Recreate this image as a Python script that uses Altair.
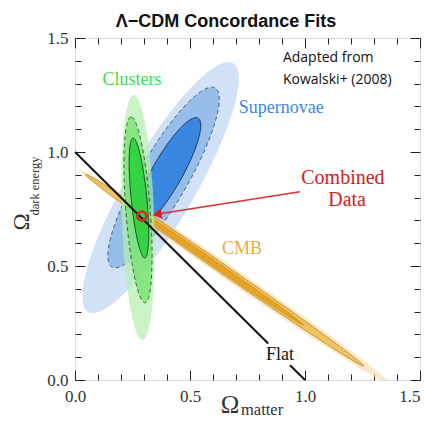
import numpy as np
import pandas as pd
import altair as alt

# ---------------- data ----------------
# Supernovae confidence contours (outer -> inner): centre, semi-axes, orientation (deg)
sn_cx = [0.372, 0.385, 0.400]
sn_cy = [0.844, 0.888, 0.908]
sn_a = [0.630, 0.452, 0.276]
sn_b = [0.148, 0.106, 0.066]
sn_angle = [60.0, 60.3, 60.7]

# Cluster contours (outer -> inner)
cl_cx = [0.274, 0.274, 0.278]
cl_cy = [0.713, 0.746, 0.798]
cl_a = [0.538, 0.409, 0.264]
cl_b = [0.070, 0.053, 0.034]
cl_angle = [92.0, 94.3, 95.6]

# CMB contours (outer -> inner)
cmb_cx = [0.700, 0.650, 0.610]
cmb_cy = [0.448, 0.482, 0.508]
cmb_a = [0.824, 0.735, 0.470]
cmb_b = [0.032, 0.020, 0.012]
cmb_angle = [-34.8, -34.8, -34.8]

# Flat universe line (two pieces around the "Flat" label)
flat_x = [0.0, 0.84, 0.935, 1.0]
flat_y = [1.0, 0.16, 0.065, 0.0]
flat_seg = ["a", "a", "b", "b"]

# Combined-data point and arrow
combined_x = [0.291]
combined_y = [0.719]
arrow_x = [0.978, 0.36]
arrow_y = [0.826, 0.728]
arrowhead_x = [0.357]
arrowhead_y = [0.727]

# Labels inside the plot
label_text = ["Clusters", "Supernovae", "Combined", "Data", "CMB", "Flat"]
label_x = [0.248, 0.897, 1.165, 1.183, 0.726, 0.891]
label_y = [1.316, 1.193, 0.886, 0.789, 0.575, 0.110]
label_color = ["#3fdd4c", "#3a88e0", "#d42020", "#d42020", "#e6ad3c", "#111111"]
label_size = [18, 18, 20, 20, 18, 18]

note_text = ["Adapted from", "Kowalski+ (2008)"]
note_x = [0.904, 0.904]
note_y = [1.412, 1.316]

major_ticks = [0.0, 0.5, 1.0, 1.5]
x_major_inner = [0.0, 0.5, 1.0]
x_major_last = [1.5]
minor_ticks = [0.1, 0.2, 0.3, 0.4, 0.6, 0.7, 0.8, 0.9, 1.1, 1.2, 1.3, 1.4]

# ---------------- styles ----------------
sn_fill = ["#d2e2f6", "#97bdea", "#3a87e2"]
sn_stroke = ["#d2e2f6", "#4d5d78", "#1f3560"]
cl_fill = ["#b4efae", "#6fe06a", "#1fcf33"]
cl_stroke = ["#b4efae", "#336633", "#1b4d22"]
cmb_fill = ["#f6dba0", "#efbb4c", "#e5a321"]

W, H = 345, 342
XS = alt.Scale(domain=[0, 1.5], nice=False, zero=False)
YS = alt.Scale(domain=[0, 1.5], nice=False, zero=False)
SERIF = "Liberation Serif"


def ellipse_df(cx, cy, a, b, ang, n=180):
    t = np.linspace(0, 2 * np.pi, n)
    th = np.deg2rad(ang)
    x = cx + a * np.cos(th) * np.cos(t) - b * np.sin(th) * np.sin(t)
    y = cy + a * np.sin(th) * np.cos(t) + b * np.cos(th) * np.sin(t)
    return pd.DataFrame({"x": x, "y": y, "i": np.arange(n)})


def axis(orient, values, size, labels, pad=8, **extra):
    return alt.Axis(
        orient=orient, values=values, tickSize=size, offset=-size,
        labels=labels, domain=False, grid=False, title=None,
        tickColor="#222", tickWidth=1, labelFont=SERIF, labelFontSize=17,
        labelColor="#333", labelPadding=pad, labelFlush=False,
        labelOverlap=False, format=".1f", **extra
    )


axis_pairs = [
    (axis("bottom", x_major_inner, 10, True, 8), axis("left", major_ticks, 10, True, 7)),
    (axis("bottom", minor_ticks, 6, False), axis("left", minor_ticks, 6, False)),
    (axis("top", major_ticks, 10, False), axis("right", major_ticks, 10, False)),
    (axis("top", minor_ticks, 6, False), axis("right", minor_ticks, 6, False)),
    (axis("bottom", x_major_last, 10, True, 8, labelAlign="right"), None),
]


def ellipse_layer(cx, cy, a, b, ang, fill, stroke=None, dash=None, width=1.0,
                  fill_opacity=1.0, axes=None):
    df = ellipse_df(cx, cy, a, b, ang)
    kw = dict(fill=fill, fillOpacity=fill_opacity, clip=True, strokeWidth=width)
    if stroke is None:
        kw["strokeOpacity"] = 0
        kw["stroke"] = fill
    else:
        kw["stroke"] = stroke
    if dash is not None:
        kw["strokeDash"] = dash
    ax_x, ax_y = axes if axes is not None else (None, None)
    return alt.Chart(df).mark_line(**kw).encode(
        x=alt.X("x:Q", scale=XS, axis=ax_x),
        y=alt.Y("y:Q", scale=YS, axis=ax_y),
        order="i:Q",
    )


layers = []
# Supernovae
layers.append(ellipse_layer(sn_cx[0], sn_cy[0], sn_a[0], sn_b[0], sn_angle[0], sn_fill[0],
                            axes=axis_pairs[0]))
layers.append(ellipse_layer(sn_cx[1], sn_cy[1], sn_a[1], sn_b[1], sn_angle[1], sn_fill[1],
                            stroke=sn_stroke[1], dash=[4, 3], axes=axis_pairs[1]))
layers.append(ellipse_layer(sn_cx[2], sn_cy[2], sn_a[2], sn_b[2], sn_angle[2], sn_fill[2],
                            stroke=sn_stroke[2], axes=axis_pairs[2]))
# CMB
layers.append(ellipse_layer(cmb_cx[0], cmb_cy[0], cmb_a[0], cmb_b[0], cmb_angle[0], cmb_fill[0],
                            fill_opacity=0.6, axes=axis_pairs[3]))
layers.append(ellipse_layer(cmb_cx[1], cmb_cy[1], cmb_a[1], cmb_b[1], cmb_angle[1], cmb_fill[1],
                            stroke="#a8792e", width=0.7, fill_opacity=0.85, axes=axis_pairs[4]))
layers.append(ellipse_layer(cmb_cx[2], cmb_cy[2], cmb_a[2], cmb_b[2], cmb_angle[2], cmb_fill[2],
                            stroke="#c98a1a", width=0.6))
# Clusters
layers.append(ellipse_layer(cl_cx[0], cl_cy[0], cl_a[0], cl_b[0], cl_angle[0], cl_fill[0],
                            fill_opacity=0.7))
layers.append(ellipse_layer(cl_cx[1], cl_cy[1], cl_a[1], cl_b[1], cl_angle[1], cl_fill[1],
                            stroke=cl_stroke[1], dash=[4, 3], fill_opacity=0.72))
layers.append(ellipse_layer(cl_cx[2], cl_cy[2], cl_a[2], cl_b[2], cl_angle[2], cl_fill[2],
                            stroke=cl_stroke[2], fill_opacity=0.8))

# Flat line
flat_df = pd.DataFrame({"x": flat_x, "y": flat_y, "seg": flat_seg})
layers.append(alt.Chart(flat_df).mark_line(color="#111111", strokeWidth=2).encode(
    x=alt.X("x:Q", scale=XS, axis=None), y=alt.Y("y:Q", scale=YS, axis=None),
    detail="seg:N"))

# Arrow
arrow_df = pd.DataFrame({"x": arrow_x, "y": arrow_y})
layers.append(alt.Chart(arrow_df).mark_line(color="#d93030", strokeWidth=1.5).encode(
    x=alt.X("x:Q", scale=XS, axis=None), y=alt.Y("y:Q", scale=YS, axis=None)))
head_df = pd.DataFrame({"x": arrowhead_x, "y": arrowhead_y})
layers.append(alt.Chart(head_df).mark_point(shape="triangle-left", filled=True, color="#d92020",
                                            size=110, angle=351, opacity=1).encode(
    x=alt.X("x:Q", scale=XS, axis=None), y=alt.Y("y:Q", scale=YS, axis=None)))

# Combined data circle
comb_df = pd.DataFrame({"x": combined_x, "y": combined_y})
layers.append(alt.Chart(comb_df).mark_point(shape="circle", filled=False, color="#d42a2a",
                                            size=80, strokeWidth=2.8, opacity=1).encode(
    x=alt.X("x:Q", scale=XS, axis=None), y=alt.Y("y:Q", scale=YS, axis=None)))

# In-plot labels
for t, x, y, c, s in zip(label_text, label_x, label_y, label_color, label_size):
    df = pd.DataFrame({"x": [x], "y": [y], "t": [t]})
    layers.append(alt.Chart(df).mark_text(font=SERIF, fontSize=s, color=c, align="center",
                                          baseline="middle").encode(
        x=alt.X("x:Q", scale=XS, axis=None), y=alt.Y("y:Q", scale=YS, axis=None), text="t:N"))

note_df = pd.DataFrame({"x": note_x, "y": note_y, "t": note_text})
layers.append(alt.Chart(note_df).mark_text(font="Open Sans", fontSize=14, color="#111",
                                           align="left", baseline="middle").encode(
    x=alt.X("x:Q", scale=XS, axis=None), y=alt.Y("y:Q", scale=YS, axis=None), text="t:N"))

# Title
layers.append(alt.Chart().mark_text(text="Λ−CDM Concordance Fits", font="Liberation Sans",
                                    fontSize=18, fontWeight="bold", color="#111",
                                    align="center", baseline="alphabetic").encode(
    x=alt.value(151), y=alt.value(-11)))

# Axis titles (Omega with subscripts)
layers.append(alt.Chart().mark_text(text="Ω", font=SERIF, fontSize=25, color="#333",
                                    align="center", baseline="alphabetic").encode(
    x=alt.value(155), y=alt.value(375)))
layers.append(alt.Chart().mark_text(text="matter", font=SERIF, fontSize=16.5, color="#333",
                                    align="left", baseline="alphabetic").encode(
    x=alt.value(166), y=alt.value(377)))
layers.append(alt.Chart().mark_text(text="Ω", font=SERIF, fontSize=23, color="#333",
                                    align="center", baseline="alphabetic", angle=270).encode(
    x=alt.value(-46), y=alt.value(184)))
layers.append(alt.Chart().mark_text(text="dark energy", font=SERIF, fontSize=12.5, color="#333",
                                    align="center", baseline="alphabetic", angle=270).encode(
    x=alt.value(-36), y=alt.value(148)))

chart = alt.layer(*layers).resolve_axis(x="independent", y="independent").properties(
    width=W, height=H,
    autosize=alt.AutoSizeParams(type="none"),
    padding={"left": 67, "top": 30, "right": 1, "bottom": 40},
).configure_view(stroke="#333", strokeWidth=1.3).configure(background="white")

chart.save("out.html", embed_options={"renderer": "svg", "actions": False})
